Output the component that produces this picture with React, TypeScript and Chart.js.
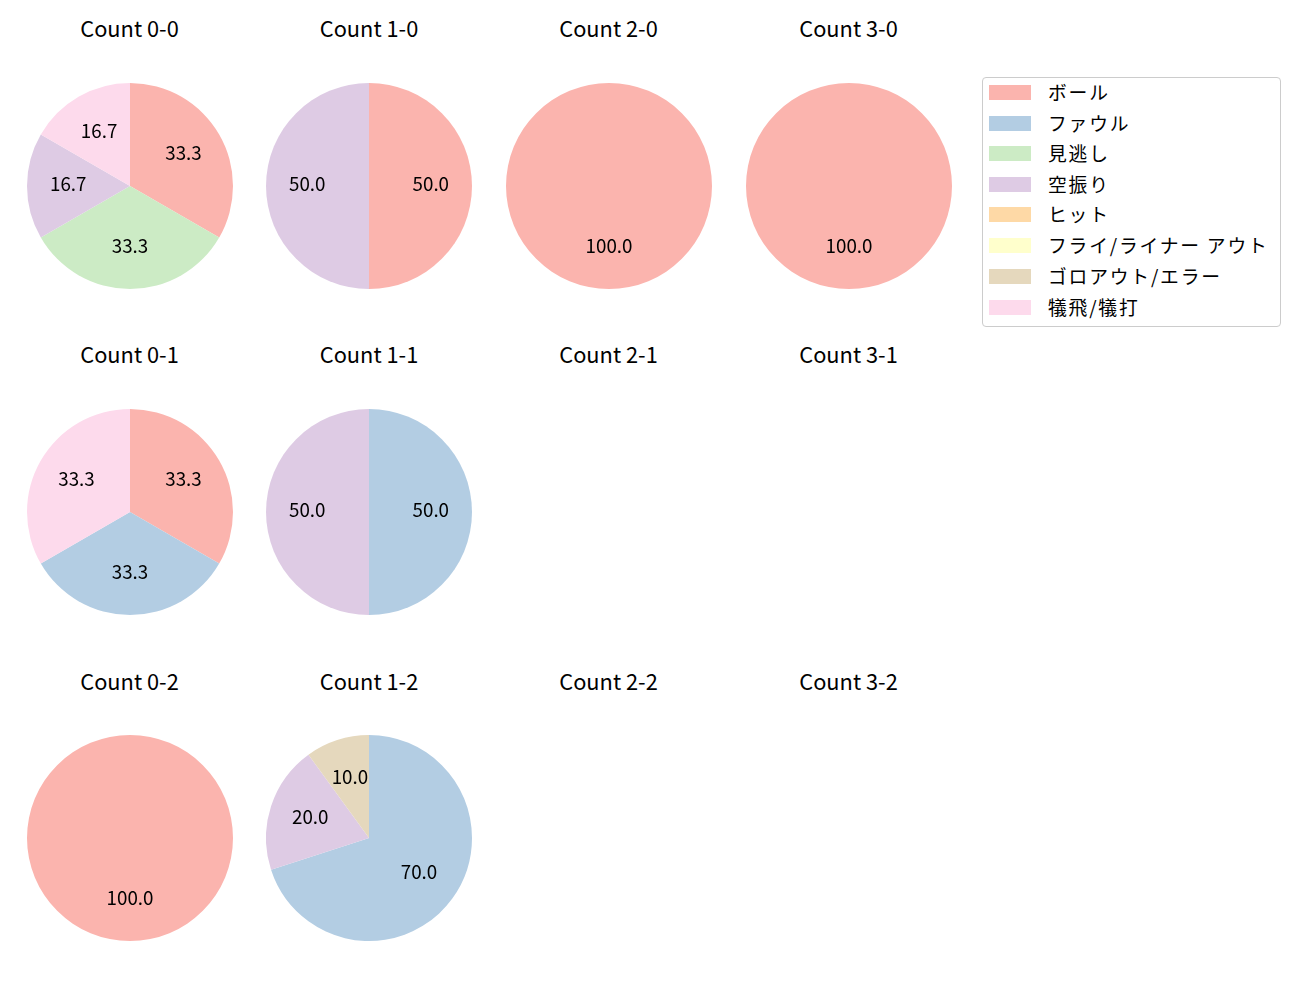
import React, { useEffect, useRef } from "react";
import { Chart, registerables } from "chart.js";

Chart.register(...registerables);

const categories = [
  "ボール",
  "ファウル",
  "見逃し",
  "空振り",
  "ヒット",
  "フライ/ライナー アウト",
  "ゴロアウト/エラー",
  "犠飛/犠打",
];

const colors = [
  "#fbb4ae",
  "#b3cde3",
  "#ccebc5",
  "#decbe4",
  "#fed9a6",
  "#ffffcc",
  "#e5d8bd",
  "#fddaec",
];

// counts per category (same order as categories)
const count00 = [2, 0, 2, 1, 0, 0, 0, 1];
const count10 = [1, 0, 0, 1, 0, 0, 0, 0];
const count20 = [1, 0, 0, 0, 0, 0, 0, 0];
const count30 = [1, 0, 0, 0, 0, 0, 0, 0];
const count01 = [1, 1, 0, 0, 0, 0, 0, 1];
const count11 = [0, 1, 0, 1, 0, 0, 0, 0];
const count21: number[] = [];
const count31: number[] = [];
const count02 = [1, 0, 0, 0, 0, 0, 0, 0];
const count12 = [0, 7, 0, 2, 0, 0, 1, 0];
const count22: number[] = [];
const count32: number[] = [];

const balls = [0, 1, 2, 3];
const strikes = [0, 1, 2];
const gridValues = [
  [count00, count10, count20, count30],
  [count01, count11, count21, count31],
  [count02, count12, count22, count32],
];

const FONT = "'Noto Sans CJK JP', 'Noto Sans', 'DejaVu Sans', sans-serif";
const colCenters = [129.5, 369, 608.5, 848.5];
const rowCenters = [186, 512, 838];
const titleY = [27.5, 354, 680.5];
const RADIUS = 103;

const pctLabelPlugin = {
  id: "pctLabels",
  afterDatasetsDraw(chart: any) {
    const ctx = chart.ctx;
    const ds = chart.data.datasets[0];
    const vals: number[] = ds.data as number[];
    const total = vals.reduce((a, b) => a + b, 0);
    const meta = chart.getDatasetMeta(0);
    ctx.save();
    ctx.font = `18.8px ${FONT}`;
    ctx.fillStyle = "#000";
    ctx.textAlign = "center";
    ctx.textBaseline = "middle";
    meta.data.forEach((arc: any, i: number) => {
      const v = vals[i];
      if (!v) return;
      const p = arc.getProps(["x", "y", "startAngle", "endAngle", "outerRadius"], true);
      const mid = (p.startAngle + p.endAngle) / 2;
      const r = p.outerRadius * 0.6;
      const x = p.x + r * Math.cos(mid);
      const y = p.y + r * Math.sin(mid) - 2;
      ctx.fillText(((v / total) * 100).toFixed(1), x, y);
    });
    ctx.restore();
  },
};

function Pie({ values, cx, cy }: { values: number[]; cx: number; cy: number }) {
  const ref = useRef<HTMLCanvasElement | null>(null);
  useEffect(() => {
    if (!ref.current) return;
    const chart = new Chart(ref.current, {
      type: "pie",
      data: {
        labels: categories,
        datasets: [
          {
            data: values,
            backgroundColor: colors,
            borderWidth: 0,
            hoverOffset: 0,
            offset: 0,
          },
        ],
      },
      options: {
        responsive: false,
        animation: false,
        events: [],
        layout: { padding: 0 },
        plugins: {
          legend: { display: false },
          tooltip: { enabled: false },
          title: { display: false },
        },
      },
      plugins: [pctLabelPlugin],
    });
    return () => chart.destroy();
  }, [values]);
  return (
    <canvas
      ref={ref}
      width={RADIUS * 2}
      height={RADIUS * 2}
      style={{
        position: "absolute",
        left: cx - RADIUS,
        top: cy - RADIUS,
        width: RADIUS * 2,
        height: RADIUS * 2,
      }}
    />
  );
}

export default function App() {
  const legendTop = 77;
  const legendRowY = [92, 122.5, 153, 183.5, 214, 244.5, 275.5, 307];
  return (
    <div
      style={{
        position: "absolute",
        left: 0,
        top: 0,
        width: 1300,
        height: 1000,
        background: "#fff",
        fontFamily: FONT,
        color: "#000",
      }}
    >
      {gridValues.map((row, ri) =>
        row.map((vals, ci) => (
          <React.Fragment key={`${ri}-${ci}`}>
            <div
              style={{
                position: "absolute",
                left: colCenters[ci] - 100,
                width: 200,
                top: titleY[ri] - 15,
                height: 30,
                lineHeight: "30px",
                textAlign: "center",
                fontSize: 21.8,
                whiteSpace: "nowrap",
              }}
            >
              {`Count ${balls[ci]}-${strikes[ri]}`}
            </div>
            {vals.length > 0 && (
              <Pie values={vals} cx={colCenters[ci]} cy={rowCenters[ri]} />
            )}
          </React.Fragment>
        ))
      )}
      <div
        style={{
          position: "absolute",
          left: 982,
          top: legendTop,
          width: 299,
          height: 250,
          border: "1px solid #cccccc",
          borderRadius: 4,
          boxSizing: "border-box",
          background: "#fff",
        }}
      />
      {categories.map((c, i) => (
        <React.Fragment key={c}>
          <div
            style={{
              position: "absolute",
              left: 989,
              top: legendRowY[i] - 7,
              width: 42,
              height: 15,
              background: colors[i],
            }}
          />
          <div
            style={{
              position: "absolute",
              left: 1048,
              top: legendRowY[i] - 14,
              height: 28,
              lineHeight: "28px",
              fontSize: 18.8,
              letterSpacing: 1.8,
              whiteSpace: "nowrap",
            }}
          >
            {c}
          </div>
        </React.Fragment>
      ))}
    </div>
  );
}
